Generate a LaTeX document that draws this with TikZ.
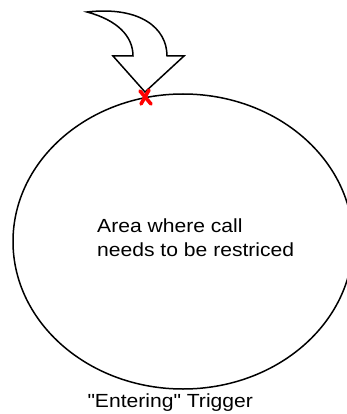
\documentclass[tikz,border=0pt]{standalone}
\usepackage{fontspec}
\setmainfont{Liberation Sans}[Ligatures=TeXOff]
\usetikzlibrary{shapes.geometric}
\tikzset{
  outline/.style={draw=black, line width=1.5pt},
  lbl/.style={inner sep=0pt, font=\fontsize{19}{23}\selectfont},
  redmark/.style={draw=red, line width=3.6pt, line cap=round}
}
\newcommand{\wide}[1]{\scalebox{1.11}[1]{#1}}
\begin{document}
\begin{tikzpicture}[x=1pt, y=-1pt]
\useasboundingbox (0,0) rectangle (347,414);
% area ellipse
\node[outline, ellipse, minimum width=340pt, minimum height=295pt, inner sep=0pt] (area) at (183,241.5) {};
% curved arrow
\draw[outline, line join=miter, fill=white] (87,12) .. controls (140,6) and (167,28) .. (167,56)
  -- (184,56) -- (145,92) -- (113,56) -- (133,56)
  .. controls (133,36) and (117,20) .. (87,12) -- cycle;
\coordinate (tip) at (145,92);
% red mark
\draw[redmark] (140,91) -- (151,104);
\draw[redmark] (149,90) -- (141,104);
% labels
\node[lbl, anchor=base west] (t1) at (97,232.3) {\wide{Area where call}};
\node[lbl, anchor=base west] (t2) at (97,256) {\wide{needs to be restriced}};
\node[lbl, anchor=base west] (t3) at (87.3,407.7) {\wide{"Entering" Trigger}};
\end{tikzpicture}
\end{document}
